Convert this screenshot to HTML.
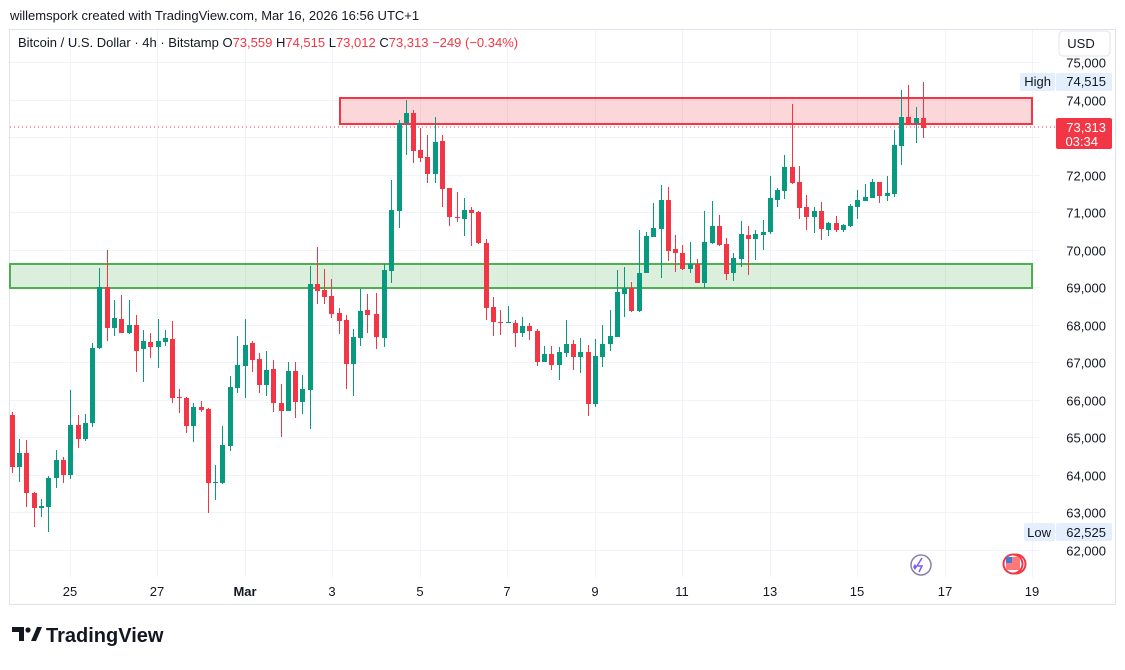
<!DOCTYPE html>
<html><head><meta charset="utf-8"><style>
body{margin:0;background:#fff;width:1125px;height:665px;overflow:hidden;font-family:"Liberation Sans",sans-serif}
</style></head><body>
<svg id="s" width="1125" height="665" xmlns="http://www.w3.org/2000/svg" font-family="Liberation Sans, sans-serif">
<rect x="0" y="0" width="1125" height="665" fill="#fff"/>
<rect x="9.5" y="29.5" width="1106" height="575" fill="none" stroke="#e0e3eb"/>
<g id="grid" stroke="#f0f3fa" stroke-width="1"></g>
<rect x="340" y="98" width="692" height="26" fill="rgba(242,54,69,0.2)" stroke="#f23645" stroke-width="2"/>
<rect x="10" y="264" width="1022" height="24" fill="rgba(76,175,80,0.2)" stroke="#4caf50" stroke-width="2"/>
<line x1="10" y1="127" x2="1055" y2="127" stroke="#f23645" stroke-width="1" stroke-dasharray="1,3"/>
<g id="c"></g>
<g id="yl" font-size="13" fill="#131722" text-anchor="end"></g>
<g id="xl" font-size="13" fill="#131722" text-anchor="middle"></g>
<rect x="1020" y="73" width="35" height="18" fill="#e3effd" rx="2"/>
<text x="1051" y="86" font-size="13" fill="#131722" text-anchor="end">High</text>
<rect x="1056" y="73" width="56" height="18" fill="#e3effd" rx="2"/>
<text x="1106" y="86" font-size="13" fill="#131722" text-anchor="end">74,515</text>
<rect x="1024" y="523" width="31" height="18" fill="#e3effd" rx="2"/>
<text x="1051" y="537" font-size="13" fill="#131722" text-anchor="end">Low</text>
<rect x="1056" y="523" width="56" height="18" fill="#e3effd" rx="2"/>
<text x="1106" y="537" font-size="13" fill="#131722" text-anchor="end">62,525</text>
<rect x="1056" y="118" width="56" height="31" fill="#f23645" rx="2"/>
<text x="1106" y="132" font-size="13" fill="#fff" text-anchor="end">73,313</text>
<text x="1098" y="146" font-size="13" fill="#fff" text-anchor="end">03:34</text>
<rect x="1059" y="31" width="51" height="25" fill="#fff" stroke="#e0e3eb" rx="4"/>
<text x="1081" y="48" font-size="13" fill="#131722" text-anchor="middle">USD</text>
<circle cx="921" cy="565" r="10" fill="none" stroke="#8a7fa8" stroke-width="1.5"/>
<path d="M922 558 L917 566 L922 566 L919 572" fill="none" stroke="#7b5cf5" stroke-width="1.5"/>
<path d="M913 567 l2 -3 l2 3 l-2 3z" fill="#7b5cf5"/>
<circle cx="1016" cy="564" r="9.5" fill="#fff" stroke="#f23645" stroke-width="2"/>
<circle cx="1013" cy="564" r="9.5" fill="#fff" stroke="#f23645" stroke-width="2"/>
<rect x="1006" y="557" width="14" height="13" fill="#f77" rx="2"/>
<rect x="1006" y="557" width="6" height="6" fill="#3d7be0"/>
<text x="10" y="20" font-size="13" fill="#131722">willemspork created with TradingView.com, Mar 16, 2026 16:56 UTC+1</text>
<text x="18" y="47" font-size="13" fill="#131722">Bitcoin / U.S. Dollar · 4h · Bitstamp <tspan>O</tspan><tspan fill="#f23645">73,559 </tspan><tspan>H</tspan><tspan fill="#f23645">74,515 </tspan><tspan>L</tspan><tspan fill="#f23645">73,012 </tspan><tspan>C</tspan><tspan fill="#f23645">73,313 −249 (−0.34%)</tspan></text>
<g transform="translate(12,627)" fill="#131722">
<path d="M0 0 h12 v14 h-5 v-9 h-7z"/><circle cx="16" cy="3" r="2.6"/><path d="M19 14 l6 -14 h5 l-6 14z"/>
</g>
<text x="46" y="642" font-size="20" font-weight="bold" fill="#131722">TradingView</text>
</svg>
<script>
const NS="http://www.w3.org/2000/svg";
function el(p,t,a,txt){const e=document.createElementNS(NS,t);for(const k in a)e.setAttribute(k,a[k]);if(txt)e.textContent=txt;document.getElementById(p).appendChild(e);}
const yp=p=>62+(75000-p)*0.03754;
for(let p=62000;p<=75000;p+=1000){const y=Math.round(yp(p))+0.5;el('grid','line',{x1:10,x2:1040,y1:y,y2:y});el('yl','text',{x:1106,y:y+5},p.toLocaleString('en-US'));}
const xs=[[70,'25'],[157,'27'],[245,'Mar'],[332,'3'],[420,'5'],[507,'7'],[595,'9'],[682,'11'],[770,'13'],[857,'15'],[945,'17'],[1032,'19']];
xs.forEach(([x,l])=>{el('grid','line',{x1:x+0.5,x2:x+0.5,y1:30,y2:577});el('xl','text',{x:x,y:596,'font-weight':l=='Mar'?'bold':'normal'},l);});
// [x, color(g/r), bodyTop, bodyBot, high, low]
const C=[[12,'r',415,467,412,473],[19,'g',453,467,439,482],[26,'r',453,493,440,507],[34,'r',493,508,492,527],[41,'g',506,508,499,517],[48,'g',478,507,476,532],[56,'g',460,478,450,488],[63,'r',460,475,457,483],[70,'g',425,475,390,479],[78,'r',425,439,415,448],[85,'g',423,439,414,441],[92,'g',348,423,343,427],[99,'g',287,348,268,349],[107,'r',287,328,250,341],[114,'g',318,328,300,336],[121,'r',319,333,295,333],[129,'g',325,333,300,334],[136,'r',325,351,315,372],[143,'g',341,349,330,382],[150,'r',342,347,333,358],[158,'g',341,347,319,368],[165,'g',338,342,330,346],[172,'r',339,398,321,403],[179,'r',397,398,389,413],[186,'r',398,426,397,433],[193,'g',407,426,403,442],[201,'r',407,410,401,412],[208,'r',409,483,408,513],[215,'g',482,483,465,500],[222,'g',445,483,426,484],[230,'g',387,446,376,451],[237,'g',365,388,336,393],[245,'g',345,366,319,398],[252,'r',343,360,341,372],[259,'r',359,385,353,393],[266,'g',370,385,351,396],[273,'r',369,403,360,412],[281,'r',403,411,384,437],[288,'g',371,411,362,411],[295,'r',371,402,362,418],[302,'g',389,402,375,414],[310,'g',284,390,266,429],[317,'r',284,291,247,304],[324,'r',290,297,269,304],[331,'r',296,314,279,318],[339,'r',313,321,308,334],[346,'r',320,364,315,389],[353,'g',337,364,329,396],[360,'g',311,338,289,346],[367,'r',310,315,294,333],[376,'r',314,337,293,349],[384,'g',270,338,264,347],[391,'g',210,271,180,283],[399,'g',123,211,120,228],[406,'g',113,123,100,155],[413,'r',113,151,110,163],[420,'r',150,158,128,162],[427,'r',157,174,135,183],[435,'g',142,174,117,183],[442,'r',141,189,135,207],[449,'r',188,217,188,226],[457,'r',217,218,192,222],[464,'g',210,219,198,236],[471,'r',210,213,207,246],[478,'r',212,243,211,244],[486,'r',243,308,239,320],[493,'r',307,322,297,336],[500,'r',322,323,310,335],[508,'g',322,323,306,323],[515,'r',323,333,320,347],[522,'g',326,333,317,337],[529,'r',326,331,323,340],[537,'r',331,362,329,366],[544,'g',354,362,346,362],[551,'r',354,365,346,370],[559,'g',352,365,347,380],[566,'g',344,353,320,357],[573,'r',344,357,340,370],[580,'g',352,357,338,373],[588,'r',352,404,345,416],[595,'g',356,404,339,407],[602,'g',344,357,325,367],[610,'g',336,344,310,351],[617,'g',292,337,270,337],[624,'g',288,294,267,317],[631,'r',288,311,282,312],[639,'g',273,311,230,312],[646,'g',236,273,232,273],[653,'g',228,237,203,237],[661,'g',200,229,185,278],[668,'r',200,251,187,261],[675,'r',249,253,235,272],[682,'r',253,269,245,270],[690,'g',264,269,242,273],[697,'r',264,283,259,283],[704,'g',242,283,211,288],[712,'g',226,243,201,244],[719,'r',226,245,215,246],[726,'r',244,274,238,280],[733,'g',258,273,253,281],[741,'g',234,259,221,267],[748,'r',235,239,226,275],[755,'g',234,239,230,260],[763,'g',232,235,220,250],[770,'g',198,232,176,234],[777,'g',190,200,188,207],[784,'g',167,191,155,199],[792,'r',167,183,104,184],[799,'r',182,208,166,219],[806,'r',207,217,195,230],[814,'g',211,217,207,233],[821,'r',211,229,202,240],[828,'g',223,230,222,236],[836,'r',223,230,216,232],[843,'g',225,230,224,232],[850,'g',206,226,204,227],[857,'g',200,207,190,219],[865,'g',197,201,184,201],[872,'g',182,198,179,198],[879,'r',182,196,182,203],[887,'g',193,196,176,201],[894,'g',145,194,130,197],[901,'g',117,146,90,165],[908,'r',117,123,85,123],[916,'g',118,123,107,143],[923,'r',118,128,82,138]];
C.forEach(([x,c,t,b,h,l])=>{const col=c=='g'?'#089981':'#f23645';el('c','line',{x1:x+0.5,x2:x+0.5,y1:h,y2:l,stroke:col,'stroke-width':1});el('c','rect',{x:x-2,y:t,width:5,height:Math.max(1,b-t),fill:col});});
</script>
</body></html>
